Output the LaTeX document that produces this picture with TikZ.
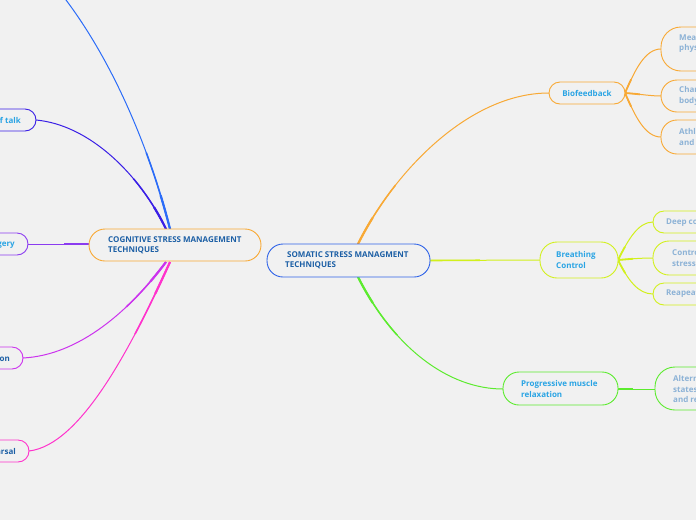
\documentclass[tikz,border=0pt]{standalone}
\usepackage{fontspec}
\setmainfont{Open Sans}
\definecolor{bgc}{HTML}{F1F1F1}
\definecolor{orng}{HTML}{F8A935}
\definecolor{sblue}{HTML}{2F63E8}
\definecolor{ygrn}{HTML}{D2F01C}
\definecolor{grn}{HTML}{5CEB2E}
\definecolor{lblue}{HTML}{2B6CF8}
\definecolor{indg}{HTML}{3A1FE6}
\definecolor{purp}{HTML}{8B3CF0}
\definecolor{magn}{HTML}{CC33EE}
\definecolor{pink}{HTML}{FF33CC}
\definecolor{txtl}{HTML}{2AA4E4}
\definecolor{txtd}{HTML}{1C5FA5}
\definecolor{txtf}{HTML}{8CB2D6}
\begin{document}
\begin{tikzpicture}[x=1pt,y=-1pt,
  pill/.style={draw=#1, line width=0.9pt, fill=bgc, inner sep=0pt},
  lbl/.style={font=\fontsize{8}{10.5}\selectfont\bfseries, align=left, inner sep=0pt},
  conn/.style={draw=#1, line width=1pt}]
\useasboundingbox (0,0) rectangle (696,520);
\fill[bgc] (0,0) rectangle (696,520);
\clip (0,0) rectangle (696,520);
% anchor points of connectors
\coordinate (topend) at (50,-20);
\coordinate (somc) at (348.5,260.5);
\coordinate (cogc) at (175,245);
\coordinate (somN) at (358,244);
\coordinate (somS) at (358,277);
\coordinate (somE) at (430,260.5);
\coordinate (cogN1) at (170,229);
\coordinate (cogN2) at (166,229);
\coordinate (cogW) at (89,244);
\coordinate (cogS1) at (166,262);
\coordinate (cogS2) at (170,262);
\coordinate (bioW) at (549,93);
\coordinate (bioE) at (625,93);
\coordinate (breW) at (540,260);
\coordinate (breE) at (618,260);
\coordinate (proW) at (503,389);
\coordinate (proE) at (618,389);
\def\pOr{(somN) .. controls (395,170) and (470,93) .. (bioW)}
\def\pYg{(somE) -- (breW)}
\def\pGr{(somS) .. controls (395,350) and (450,389) .. (proW)}
\def\pBa{(bioE) .. controls (635,70) and (645,49) .. (661,49)}
\def\pBb{(bioE) .. controls (640,94) and (650,96) .. (661,96)}
\def\pBc{(bioE) .. controls (635,116) and (645,137) .. (661,137)}
\def\pCa{(breE) .. controls (628,240) and (638,222) .. (653,222)}
\def\pCb{(breE) .. controls (630,259) and (640,258) .. (653,258)}
\def\pCc{(breE) .. controls (628,280) and (638,294) .. (653,294)}
\def\pPa{(proE) -- (655,389)}
\def\pLa{(cogN1) .. controls (150,150) and (110,50) .. (topend)}
\def\pLb{(cogN2) .. controls (140,175) and (90,125) .. (36,120)}
\def\pLc{(cogW) -- (28,244)}
\def\pLd{(cogS1) .. controls (130,310) and (80,355) .. (23,358)}
\def\pLe{(cogS2) .. controls (130,350) and (80,445) .. (29,451)}
% thin connectors
\draw[conn=orng] \pOr;
\draw[conn=ygrn] \pYg;
\draw[conn=grn] \pGr;
\draw[conn=orng] \pBa; \draw[conn=orng] \pBb; \draw[conn=orng] \pBc;
\draw[conn=ygrn] \pCa; \draw[conn=ygrn] \pCb; \draw[conn=ygrn] \pCc;
\draw[conn=grn] \pPa;
\draw[conn=lblue] \pLa;
\draw[conn=indg] \pLb;
\draw[conn=purp] \pLc;
\draw[conn=magn] \pLd;
\draw[conn=pink] \pLe;
% thicker roots (taper)
\begin{scope}\clip (somN) circle (70pt);
  \draw[draw=orng, line width=1.5pt] \pOr; \end{scope}
\begin{scope}\clip (somN) circle (30pt);
  \draw[draw=orng, line width=2.2pt] \pOr; \end{scope}
\begin{scope}\clip (somS) circle (70pt);
  \draw[draw=grn, line width=1.5pt] \pGr; \end{scope}
\begin{scope}\clip (somS) circle (30pt);
  \draw[draw=grn, line width=2.2pt] \pGr; \end{scope}
\begin{scope}\clip (somE) circle (50pt);
  \draw[draw=ygrn, line width=1.6pt] \pYg; \end{scope}
\begin{scope}\clip (bioE) circle (15pt);
  \draw[draw=orng, line width=1.8pt] \pBa \pBb \pBc; \end{scope}
\begin{scope}\clip (breE) circle (15pt);
  \draw[draw=ygrn, line width=1.8pt] \pCa \pCb \pCc; \end{scope}
\begin{scope}\clip (proE) circle (15pt);
  \draw[draw=grn, line width=2pt] \pPa; \end{scope}
\begin{scope}\clip (cogN1) circle (80pt);
  \draw[draw=lblue, line width=1.6pt] \pLa; \end{scope}
\begin{scope}\clip (cogN1) circle (35pt);
  \draw[draw=lblue, line width=2.2pt] \pLa; \end{scope}
\begin{scope}\clip (cogN2) circle (60pt);
  \draw[draw=indg, line width=1.5pt] \pLb; \end{scope}
\begin{scope}\clip (cogN2) circle (25pt);
  \draw[draw=indg, line width=2.2pt] \pLb; \end{scope}
\begin{scope}\clip (cogW) circle (25pt);
  \draw[draw=purp, line width=1.6pt] \pLc; \end{scope}
\begin{scope}\clip (cogS1) circle (60pt);
  \draw[draw=magn, line width=1.5pt] \pLd; \end{scope}
\begin{scope}\clip (cogS1) circle (25pt);
  \draw[draw=magn, line width=2.2pt] \pLd; \end{scope}
\begin{scope}\clip (cogS2) circle (80pt);
  \draw[draw=pink, line width=1.6pt] \pLe; \end{scope}
\begin{scope}\clip (cogS2) circle (35pt);
  \draw[draw=pink, line width=2.2pt] \pLe; \end{scope}
% boxes
\node[pill=sblue, rounded corners=16pt, minimum width=163pt, minimum height=33pt] (som) at (somc) {};
\node[pill=orng, rounded corners=16pt, minimum width=172pt, minimum height=32pt] (cog) at (cogc) {};
\node[pill=orng, rounded corners=11pt, minimum width=76pt, minimum height=22pt] (bio) at (587,93) {};
\node[pill=ygrn, rounded corners=17pt, minimum width=78pt, minimum height=36pt] (bre) at (579,260) {};
\node[pill=grn, rounded corners=16pt, minimum width=115pt, minimum height=33pt] (pro) at (560.5,388.5) {};
\node[pill=orng, rounded corners=20pt, minimum width=120pt, minimum height=44pt] (m1) at (721,49) {};
\node[pill=orng, rounded corners=16pt, minimum width=120pt, minimum height=32pt] (m2) at (721,96) {};
\node[pill=orng, rounded corners=16pt, minimum width=120pt, minimum height=34pt] (m3) at (721,137) {};
\node[pill=ygrn, rounded corners=11pt, minimum width=120pt, minimum height=22pt] (d1) at (713,222) {};
\node[pill=ygrn, rounded corners=16pt, minimum width=120pt, minimum height=34pt] (d2) at (713,258) {};
\node[pill=ygrn, rounded corners=11pt, minimum width=120pt, minimum height=22pt] (d3) at (713,294) {};
\node[pill=grn, rounded corners=20pt, minimum width=120pt, minimum height=43pt] (a1) at (715,388.5) {};
\node[pill=indg, rounded corners=11pt, minimum width=100pt, minimum height=22pt] (st) at (-14,120) {};
\node[pill=purp, rounded corners=11pt, minimum width=100pt, minimum height=22pt] (im) at (-22,244) {};
\node[pill=magn, rounded corners=11pt, minimum width=100pt, minimum height=22pt] (me) at (-27,358) {};
\node[pill=pink, rounded corners=11pt, minimum width=100pt, minimum height=22pt] (re) at (-21,451) {};
% texts
\node[lbl, text=txtd, anchor=west] (somt) at (285,260.5) {\hspace{2pt}SOMATIC STRESS MANAGMENT\\TECHNIQUES};
\node[lbl, text=txtd, anchor=west] (cogt) at (108,245.5) {COGNITIVE STRESS MANAGEMENT\\TECHNIQUES};
\node[lbl, text=txtl] (biot) at (bio) {Biofeedback};
\node[lbl, text=txtl, anchor=west] (bret) at (556,260) {Breathing\\Control};
\node[lbl, text=txtl, anchor=west] (prot) at (521,389) {Progressive muscle\\relaxation};
\node[lbl, text=txtf, anchor=west] (m1t) at (679,43.5) {Measures\\physiological};
\node[lbl, text=txtf, anchor=west] (m2t) at (679,96) {Changes in\\body};
\node[lbl, text=txtf, anchor=west] (m3t) at (679,137) {Athletes\\and};
\node[lbl, text=txtf, anchor=west] (d1t) at (666,222) {Deep controlled};
\node[lbl, text=txtf, anchor=west] (d2t) at (672,258) {Control\\stress};
\node[lbl, text=txtf, anchor=west] (d3t) at (666,294) {Reapeat};
\node[lbl, text=txtf, anchor=west] (a1t) at (673,389) {Alternating\\states of\\and relaxation};
\node[lbl, text=txtl, anchor=east] (stt) at (21,120) {Positive self talk};
\node[lbl, text=txtl, anchor=east] (imt) at (15,244) {Mental imagery};
\node[lbl, text=txtd, anchor=east] (met) at (10,358) {Meditation};
\node[lbl, text=txtd, anchor=east] (ret) at (16,451) {Mental rehearsal};
\end{tikzpicture}
\end{document}
